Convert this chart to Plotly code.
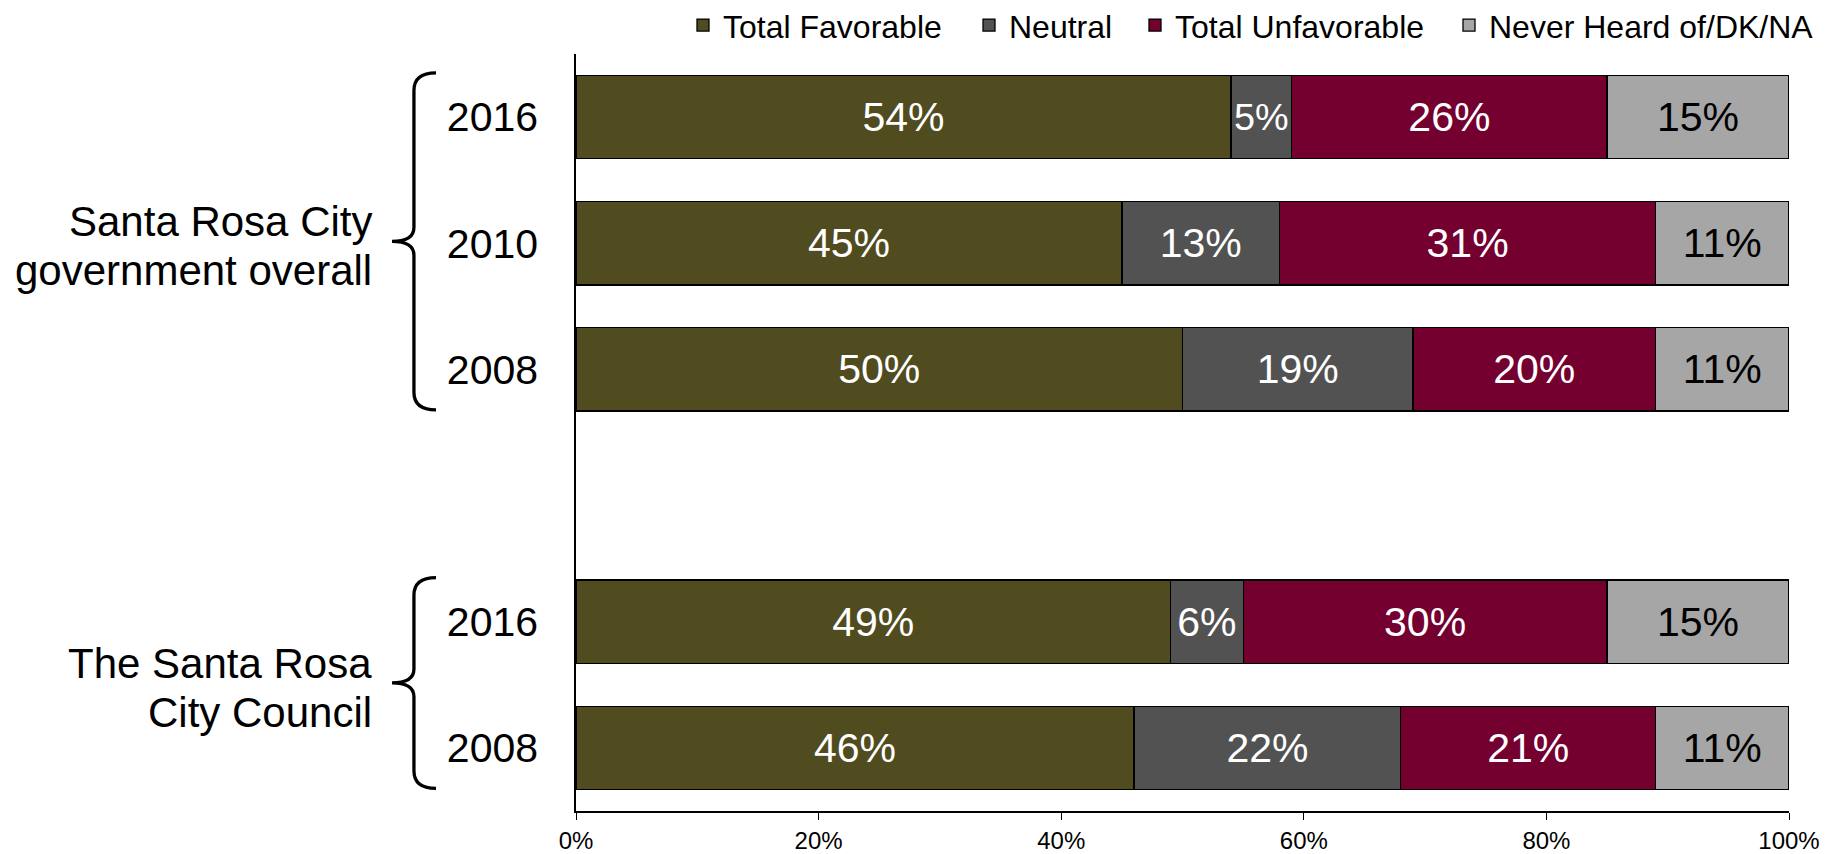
import plotly.graph_objects as go

# Row categories (top to bottom); "spacer" leaves the empty slot between groups
categories = ["gov_2016", "gov_2010", "gov_2008", "spacer", "council_2016", "council_2008"]
year_labels = ["2016", "2010", "2008", "", "2016", "2008"]

bar_rows = ["gov_2016", "gov_2010", "gov_2008", "council_2016", "council_2008"]
favorable = [54, 45, 50, 49, 46]
neutral = [5, 13, 19, 6, 22]
unfavorable = [26, 31, 20, 30, 21]
never_heard = [15, 11, 11, 15, 11]

series_names = ["Total Favorable", "Neutral", "Total Unfavorable", "Never Heard of/DK/NA"]
series_values = [favorable, neutral, unfavorable, never_heard]
series_colors = ["#504C1F", "#525252", "#740030", "#A6A6A6"]
text_colors = ["white", "white", "white", "black"]

group_lines = [("Santa Rosa City", "government overall"), ("The Santa Rosa", "City Council")]
# first and last row index covered by each group
group_spans = [(0, 2), (4, 5)]

FONT = "Arial, Liberation Sans, sans-serif"
# the page body adds an 8px offset, so the figure is 8px smaller than the window
FIG_W, FIG_H = 1824, 846
M_L, M_R, M_T, M_B = 568, 43, 46, 43
PLOT_W = FIG_W - M_L - M_R

fig = go.Figure()

legend_ids = ["legend", "legend2", "legend3", "legend4"]
for name, values, color, tcolor, lid in zip(series_names, series_values, series_colors,
                                            text_colors, legend_ids):
    fig.add_trace(go.Bar(
        y=bar_rows,
        x=values,
        name=name,
        legend=lid,
        orientation="h",
        width=0.66,
        marker=dict(color=color, line=dict(color="black", width=1.3)),
        text=[f"{v}%" for v in values],
        textposition="inside",
        insidetextanchor="middle",
        textangle=0,
        textfont=dict(color=tcolor, size=41, family=FONT),
        hoverinfo="skip",
    ))

# Curly braces and group labels, x in paper units left of the axis
brace_x, tip_x, hook_x = -0.1336, -0.1517, -0.1154
r_end, r_tip = 0.14, 0.11  # curve sizes in row units
for (lo, hi), (line1, line2) in zip(group_spans, group_lines):
    top = lo - 0.35
    bottom = hi + 0.32
    mid = (top + bottom) / 2
    path = (
        f"M {hook_x},{top} Q {brace_x},{top} {brace_x},{top + r_end} "
        f"L {brace_x},{mid - r_tip} Q {brace_x},{mid} {tip_x},{mid} "
        f"Q {brace_x},{mid} {brace_x},{mid + r_tip} "
        f"L {brace_x},{bottom - r_end} Q {brace_x},{bottom} {hook_x},{bottom}"
    )
    fig.add_shape(type="path", path=path, xref="paper", yref="y",
                  line=dict(color="black", width=3.3))
    for txt, shift in ((line1, 24.5), (line2, -24.5)):
        fig.add_annotation(
            text=txt, xref="paper", yref="y", x=-0.1665, y=mid + 0.04, yshift=shift,
            xanchor="right", yanchor="middle", align="right", showarrow=False,
            font=dict(size=42, color="black", family=FONT),
        )

# legend entries placed individually (left edge of each marker, in window px)
marker_left = [697, 983, 1149, 1463]
legend_layout = {}
for lid, px in zip(legend_ids, marker_left):
    legend_layout[lid] = dict(
        orientation="h",
        xref="paper",
        yref="paper",
        x=(px - 8 - 14 - M_L) / PLOT_W,
        xanchor="left",
        y=1.038,
        yanchor="middle",
        bgcolor="rgba(0,0,0,0)",
        font=dict(size=32, family=FONT, color="black"),
    )

fig.update_layout(
    width=FIG_W,
    height=FIG_H,
    barmode="stack",
    margin=dict(l=M_L, r=M_R, t=M_T, b=M_B, autoexpand=False),
    paper_bgcolor="white",
    plot_bgcolor="white",
    font=dict(family=FONT, color="black"),
    xaxis=dict(
        range=[0, 100],
        dtick=20,
        ticksuffix="%",
        showgrid=False,
        zeroline=False,
        showline=True,
        linecolor="black",
        linewidth=1.5,
        ticks="outside",
        ticklen=7,
        tickcolor="black",
        tickfont=dict(size=24, family=FONT),
        automargin=False,
    ),
    yaxis=dict(
        type="category",
        categoryorder="array",
        categoryarray=categories,
        tickvals=categories,
        ticktext=year_labels,
        autorange="reversed",
        showgrid=False,
        zeroline=False,
        showline=True,
        linecolor="black",
        linewidth=1.5,
        ticks="",
        ticklabelstandoff=28,
        tickfont=dict(size=41, family=FONT),
        automargin=False,
    ),
    showlegend=True,
    **legend_layout,
)

fig.write_html("out.html")
